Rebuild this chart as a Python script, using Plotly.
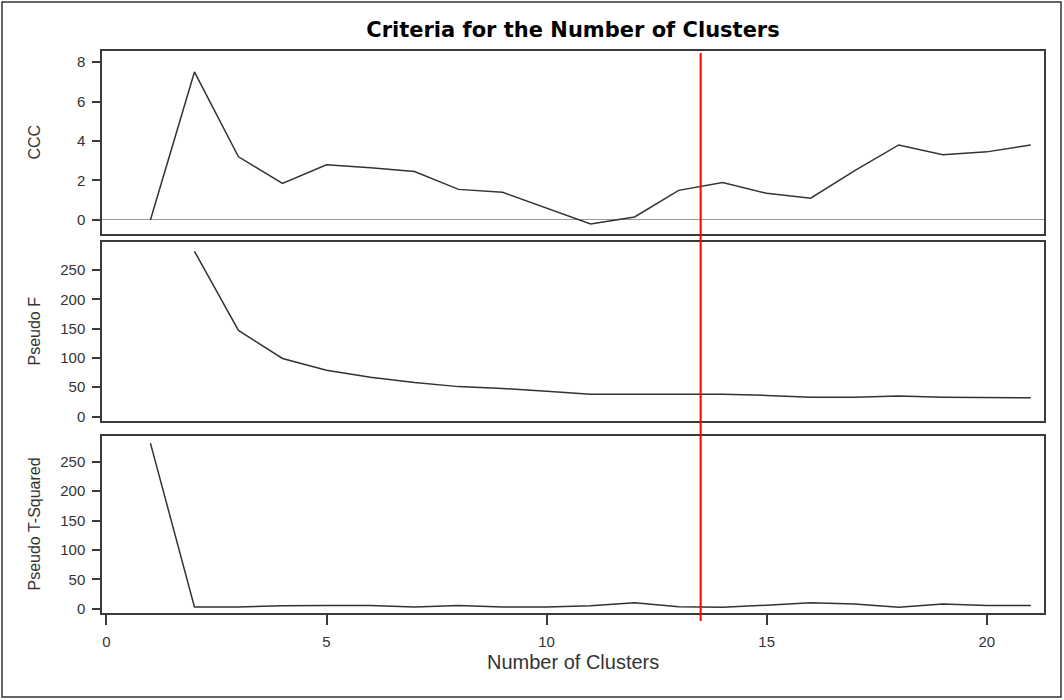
import plotly.graph_objects as go

clusters = list(range(1, 22))
ccc = [0.0, 7.5, 3.2, 1.85, 2.8, 2.65, 2.45, 1.55, 1.4, 0.6, -0.2, 0.15,
       1.5, 1.9, 1.35, 1.1, 2.5, 3.8, 3.3, 3.45, 3.8]
pseudo_f_x = list(range(2, 22))
pseudo_f = [282, 147, 99, 79, 67, 58, 51, 48, 43, 38, 38, 38, 38, 36, 33, 33,
            35, 33, 33, 32]
pseudo_t2 = [282, 3, 3, 5, 5.5, 5.5, 3, 5.5, 3, 3, 5, 10, 3.5, 2.5, 6, 10, 8,
             2.5, 8, 5.5, 5.5]
ref_x = 13.5
x_ticks = [0, 5, 10, 15, 20]
ccc_ticks = [0, 2, 4, 6, 8]
pf_ticks = [0, 50, 100, 150, 200, 250]

TICKFONT = dict(family="Liberation Sans, Arial, sans-serif", size=15, color="#333333")
YLABELFONT = dict(family="Liberation Sans, Arial, sans-serif", size=16, color="#333333")
XLABELFONT = dict(family="Liberation Sans, Arial, sans-serif", size=20, color="#333333")
LINE = dict(color="#333333", width=1.5)
AXC = "#3a3a3a"

fig = go.Figure()
fig.add_trace(go.Scatter(x=clusters, y=ccc, mode="lines", line=LINE,
                         xaxis="x", yaxis="y", showlegend=False))
fig.add_trace(go.Scatter(x=pseudo_f_x, y=pseudo_f, mode="lines", line=LINE,
                         xaxis="x2", yaxis="y2", showlegend=False))
fig.add_trace(go.Scatter(x=clusters, y=pseudo_t2, mode="lines", line=LINE,
                         xaxis="x3", yaxis="y3", showlegend=False))

xr = [-0.1, 21.3]
common_x = dict(range=xr, showgrid=False, zeroline=False, showline=True,
                mirror=True, linecolor=AXC, linewidth=1.5)
common_y = dict(showgrid=False, showline=True, mirror=True, linecolor=AXC,
                linewidth=1.5, ticks="outside", ticklen=8, tickwidth=1.5,
                tickcolor=AXC, tickfont=TICKFONT, ticklabelstandoff=4)

fig.update_layout(
    width=1064, height=700,
    margin=dict(l=102, r=20, t=51, b=87),
    paper_bgcolor="white", plot_bgcolor="white",
    title=dict(text="<b>Criteria for the Number of Clusters</b>",
               font=dict(family="DejaVu Sans, Verdana, sans-serif", size=21, color="#000000"),
               x=0.5, xref="paper", xanchor="center", y=1 - 30 / 700, yanchor="middle"),
    xaxis=dict(**common_x, anchor="y", matches="x3", showticklabels=False, ticks=""),
    xaxis2=dict(**common_x, anchor="y2", matches="x3", showticklabels=False, ticks=""),
    xaxis3=dict(**common_x, anchor="y3", tickvals=x_ticks, ticks="outside",
                ticklen=10, tickwidth=1.5, tickcolor=AXC, tickfont=TICKFONT,
                ticklabelstandoff=4),
    yaxis=dict(**common_y, domain=[0.6744, 1.0], range=[-0.71, 8.56],
               tickvals=ccc_ticks, zeroline=True, zerolinecolor="#9a9a9a",
               zerolinewidth=1),
    yaxis2=dict(**common_y, domain=[0.3416, 0.6601], range=[-7.7, 297.8],
                tickvals=pf_ticks, zeroline=False),
    yaxis3=dict(**common_y, domain=[0.0, 0.3149], range=[-7.3, 294],
                tickvals=pf_ticks, zeroline=False),
)

# reference line spanning all panels
fig.add_shape(type="line", xref="x3", yref="paper", x0=ref_x, x1=ref_x,
              y0=-0.0142, y1=0.9964, line=dict(color="#ff0000", width=2))
# outer frame
fig.add_shape(type="rect", xref="paper", yref="paper",
              x0=(2 - 102) / 942, x1=(1061 - 102) / 942,
              y0=(613 - 697) / 562, y1=(613 - 2) / 562,
              line=dict(color="#333333", width=1.5))

ylabels = [("CCC", 142.5), ("Pseudo F", 331.5), ("Pseudo T-Squared", 524.5)]
for txt, ypx in ylabels:
    fig.add_annotation(text=txt, xref="paper", yref="paper",
                       x=(34 - 102) / 942, y=(613 - ypx) / 562,
                       xanchor="center", yanchor="middle", textangle=-90,
                       showarrow=False, font=YLABELFONT)
fig.add_annotation(text="Number of Clusters", xref="paper", yref="paper",
                   x=0.5, y=(613 - 662) / 562, xanchor="center", yanchor="middle",
                   showarrow=False, font=XLABELFONT)

fig.write_html("out.html",
               config={"displayModeBar": False},
               post_script="document.body.style.margin='0';"
                           "document.body.style.overflow='hidden';")
